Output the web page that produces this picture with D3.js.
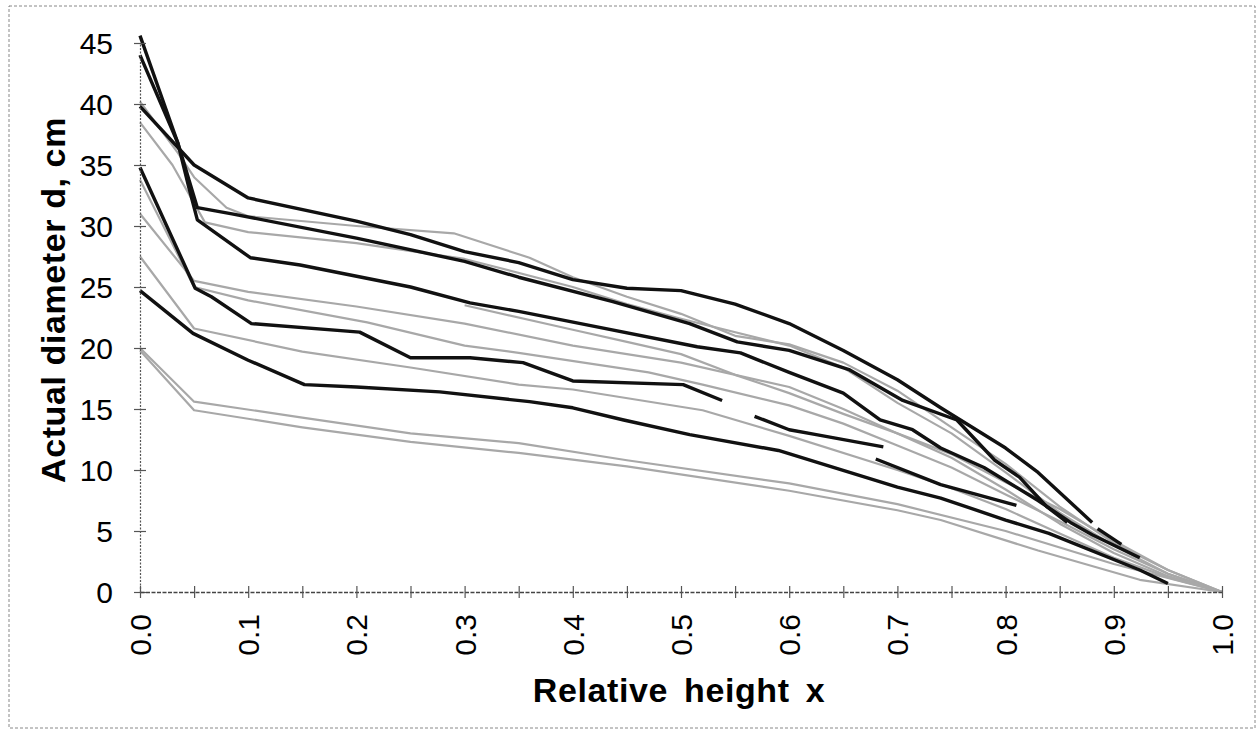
<!DOCTYPE html>
<html>
<head>
<meta charset="utf-8">
<script src="https://cdn.jsdelivr.net/npm/d3@7"></script>
<style>
  html, body { margin: 0; padding: 0; background: #fff; }
  svg { display: block; }
</style>
</head>
<body>
<svg id="chart" width="1260" height="734"></svg>
<script>
// ---------- DATA (relative height x, actual diameter d in cm) ----------
const yTickValues = [0, 5, 10, 15, 20, 25, 30, 35, 40, 45];
const xTickLabels = ["0.0","0.1","0.2","0.3","0.4","0.5","0.6","0.7","0.8","0.9","1.0"];
const xMinorTicks = [0,0.05,0.1,0.15,0.2,0.25,0.3,0.35,0.4,0.45,0.5,0.55,0.6,0.65,0.7,0.75,0.8,0.85,0.9,0.95,1.0];

// black (thick) series
const treeK1 = [[0,39.8],[0.05,35.0],[0.1,32.3],[0.2,30.4],[0.25,29.3],[0.3,27.9],[0.35,27.0],[0.4,25.6],[0.45,24.9],[0.5,24.7],[0.55,23.6],[0.6,22.0],[0.65,19.8],[0.7,17.4],[0.74,15.1],[0.8,11.8],[0.83,9.8],[0.88,5.7]];
const treeK2 = [[0,44.0],[0.035,36.8],[0.045,33.2],[0.053,30.5],[0.102,27.4],[0.148,26.8],[0.25,25.0],[0.305,23.7],[0.35,23.0],[0.413,21.9],[0.515,20.1],[0.555,19.6],[0.6,18.0],[0.65,16.3],[0.684,14.1],[0.714,13.3],[0.74,11.8],[0.78,10.2],[0.83,7.5],[0.86,5.7],[0.88,4.7],[0.924,2.8]];
const treeK3 = [[0,45.6],[0.035,36.8],[0.053,31.5],[0.085,31.0],[0.2,29.0],[0.3,27.1],[0.35,25.8],[0.437,23.8],[0.508,22.0],[0.552,20.5],[0.6,19.8],[0.656,18.2],[0.705,15.7],[0.755,14.1],[0.79,10.8],[0.813,9.4],[0.838,7.0],[0.857,5.7]];
const treeK4 = [[0,34.8],[0.051,24.9],[0.066,24.2],[0.103,22.0],[0.203,21.3],[0.25,19.2],[0.305,19.2],[0.354,18.8],[0.4,17.3],[0.502,17.0],[0.538,15.7]];
const treeK5 = [[0,24.7],[0.049,21.2],[0.1,19.0],[0.152,17.0],[0.2,16.8],[0.277,16.4],[0.36,15.6],[0.4,15.1],[0.447,14.1],[0.508,12.9],[0.59,11.6],[0.7,8.6],[0.74,7.7],[0.8,5.9],[0.84,4.8],[0.924,1.8],[0.95,0.7]];
const treeK6 = [[0.568,14.4],[0.6,13.3],[0.625,12.9],[0.687,11.9]];
const treeK7 = [[0.68,10.9],[0.74,8.8],[0.81,7.1]];
const treeK8 = [[0.885,5.2],[0.907,3.9]];

// grey (thin) series
const treeG1 = [[0,40.2],[0.035,36.0],[0.05,34.0],[0.08,31.5],[0.1,30.8],[0.2,30.0],[0.29,29.4],[0.36,27.4],[0.4,25.8],[0.45,24.2],[0.5,22.8],[0.55,21.0],[0.6,20.3],[0.65,18.8],[0.7,16.5],[0.75,13.5],[0.8,10.5],[0.85,7.0],[0.9,4.0],[0.95,1.8],[1.0,0]];
const treeG2 = [[0,33.8],[0.05,25.0],[0.1,23.9],[0.21,22.1],[0.3,20.2],[0.35,19.6],[0.47,18.0],[0.52,17.0],[0.6,15.3],[0.65,13.8],[0.7,12.0],[0.75,10.2],[0.8,8.0],[0.85,5.8],[0.9,3.5],[0.95,1.5],[1.0,0]];
const treeG3 = [[0,27.5],[0.05,21.6],[0.15,19.7],[0.25,18.4],[0.35,17.0],[0.4,16.6],[0.52,14.9],[0.6,12.8],[0.7,10.0],[0.75,8.5],[0.8,6.8],[0.85,4.8],[0.9,2.8],[0.95,1.2],[1.0,0]];
const treeG4 = [[0,20.0],[0.05,15.6],[0.15,14.3],[0.25,13.0],[0.35,12.2],[0.45,10.8],[0.6,8.9],[0.7,7.2],[0.8,5.0],[0.9,2.3],[1.0,0]];
const treeG5 = [[0,19.8],[0.05,14.9],[0.15,13.5],[0.25,12.3],[0.35,11.4],[0.45,10.3],[0.6,8.3],[0.7,6.7],[0.74,5.9],[0.83,3.4],[0.924,1.0],[1.0,0]];
const treeG6 = [[0,38.5],[0.03,35.0],[0.06,30.3],[0.1,29.5],[0.2,28.6],[0.3,27.3],[0.4,25.0],[0.45,23.6],[0.5,22.4],[0.6,20.2],[0.65,18.4],[0.7,15.5],[0.75,13.0],[0.8,9.8],[0.85,6.5],[0.9,3.8],[0.95,1.5],[1.0,0]];
const treeG7 = [[0,31.0],[0.05,25.5],[0.1,24.6],[0.2,23.4],[0.3,22.0],[0.4,20.2],[0.5,18.8],[0.6,16.8],[0.65,15.0],[0.7,13.0],[0.75,11.3],[0.8,9.0],[0.85,6.8],[0.9,4.2],[0.95,1.8],[1.0,0]];
const treeG8 = [[0.3,23.5],[0.4,21.5],[0.45,20.5],[0.5,19.5],[0.55,17.8],[0.6,16.3],[0.65,14.6],[0.7,13.0],[0.75,11.0],[0.8,8.4],[0.85,5.6],[0.9,3.2],[0.95,1.3],[1.0,0]];

const blackSeries = [treeK1, treeK2, treeK3, treeK4, treeK5, treeK6, treeK7, treeK8];
const greySeries  = [treeG1, treeG2, treeG3, treeG4, treeG5, treeG6, treeG7, treeG8];

// ---------- DRAWING ----------
const FONT = "Arial, 'Liberation Sans', sans-serif";
const svg = d3.select("#chart");
const x = d3.scaleLinear().domain([0, 1]).range([140, 1222]);
const y = d3.scaleLinear().domain([0, 45]).range([592, 43]);

// outer frame
svg.append("rect")
  .attr("x", 9).attr("y", 6).attr("width", 1246).attr("height", 722)
  .attr("fill", "none").attr("stroke", "#888").attr("stroke-width", 1)
  .attr("stroke-dasharray", "3,2");

const line = d3.line().x(d => x(d[0])).y(d => y(d[1]));

const plot = svg.append("g");
plot.selectAll("path.grey").data(greySeries).join("path")
  .attr("class", "grey")
  .attr("d", line)
  .attr("fill", "none")
  .attr("stroke", "#a8a8a8")
  .attr("stroke-width", 2.2)
  .attr("stroke-linejoin", "round");

plot.selectAll("path.black").data(blackSeries).join("path")
  .attr("class", "black")
  .attr("d", line)
  .attr("fill", "none")
  .attr("stroke", "#111")
  .attr("stroke-width", 3.4)
  .attr("stroke-linejoin", "round");

// Y axis
const yAxis = d3.axisLeft(y).tickValues(yTickValues).tickSize(0).tickPadding(27)
  .tickFormat(d3.format("d"));
const gy = svg.append("g").attr("transform", `translate(${x(0)},0)`).call(yAxis);
gy.select(".domain").attr("stroke", "#555").attr("stroke-width", 1.2).attr("stroke-dasharray", "2,1.5");
gy.selectAll(".tick text")
  .attr("font-family", FONT)
  .attr("font-size", 30).attr("fill", "#000").attr("dy", "0.36em");
gy.selectAll(".tick").append("line")
  .attr("x1", -6).attr("x2", 6).attr("stroke", "#555").attr("stroke-width", 1.2);

// X axis
const xAxis = d3.axisBottom(x).tickValues(xMinorTicks).tickSize(0).tickFormat("");
const gx = svg.append("g").attr("transform", `translate(0,${y(0)})`).call(xAxis);
gx.select(".domain").attr("stroke", "#444").attr("stroke-width", 1.3).attr("stroke-dasharray", "4,1.5");
gx.selectAll(".tick").append("line")
  .attr("y1", -6).attr("y2", 6).attr("stroke", "#555").attr("stroke-width", 1.2);

// X tick labels (rotated)
svg.append("g").selectAll("text").data(xTickLabels).join("text")
  .attr("transform", (d) => `translate(${x(+d) + 11},614) rotate(-90)`)
  .attr("text-anchor", "end")
  .attr("font-family", FONT)
  .attr("font-size", 30)
  .text(d => d);

// Axis titles
svg.append("text")
  .attr("transform", "translate(65,300) rotate(-90)")
  .attr("text-anchor", "middle")
  .attr("font-family", FONT)
  .attr("font-weight", "bold").attr("font-size", 34)
  .attr("letter-spacing", 0.6)
  .text("Actual diameter d, cm");

svg.append("text")
  .attr("x", 679).attr("y", 702)
  .attr("text-anchor", "middle")
  .attr("font-family", FONT)
  .attr("font-weight", "bold").attr("font-size", 34)
  .attr("letter-spacing", 0.6)
  .attr("word-spacing", 6)
  .text("Relative height x");
</script>
</body>
</html>
